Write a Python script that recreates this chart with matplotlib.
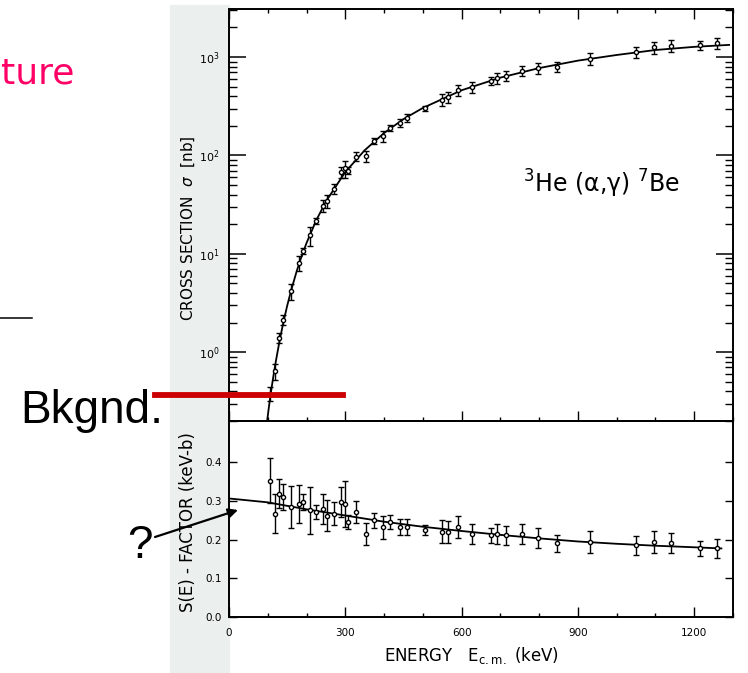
import matplotlib
matplotlib.use('Agg')
import matplotlib.pyplot as plt
import numpy as np
from matplotlib.ticker import (MultipleLocator, LogLocator, NullFormatter,
                               FormatStrFormatter, FixedLocator)
from matplotlib.patches import Rectangle
from matplotlib.lines import Line2D

# data points: energy (keV), S-factor (keV-b) and its error
energy = [105, 118, 130, 140, 160, 180, 190, 208, 225, 242, 252, 270, 290, 298, 308,
          328, 353, 375, 398, 415, 440, 460, 505, 550, 565, 590, 628, 675, 690, 715,
          755, 798, 845, 930, 1050, 1095, 1140, 1215, 1260]
s_factor = [0.352, 0.267, 0.318, 0.309, 0.284, 0.292, 0.297, 0.275, 0.271, 0.279, 0.262,
            0.267, 0.297, 0.292, 0.245, 0.271, 0.215, 0.250, 0.232, 0.245, 0.232, 0.232,
            0.224, 0.220, 0.220, 0.232, 0.215, 0.211, 0.215, 0.211, 0.214, 0.203, 0.190,
            0.194, 0.185, 0.194, 0.190, 0.177, 0.177]
s_err = [0.058, 0.051, 0.037, 0.034, 0.053, 0.050, 0.021, 0.060, 0.019, 0.039, 0.040,
         0.030, 0.039, 0.059, 0.019, 0.028, 0.028, 0.019, 0.030, 0.019, 0.021, 0.021,
         0.013, 0.030, 0.028, 0.028, 0.026, 0.019, 0.026, 0.024, 0.026, 0.026, 0.021,
         0.028, 0.024, 0.028, 0.026, 0.019, 0.024]
# cross section (nb) at the same energies, upper panel
sigma = [0.38, 0.64, 1.40, 2.13, 4.20, 8.05, 10.7, 15.4, 21.7, 30.7, 34.2, 46.1, 67.8,
         73.9, 70.1, 97.2, 99.3, 141, 158, 190, 213, 243, 302, 370, 395, 462, 495, 570,
         609, 644, 728, 770, 801, 967, 1121, 1252, 1301, 1324, 1388]

# fitted curves
curve_e = [98, 102, 105, 110, 115, 120, 130, 140, 150, 160, 175, 185, 200, 225, 250,
           300, 350, 400, 450, 500, 600, 700, 800, 900, 1000, 1100, 1200, 1290]
curve_sigma = [0.195, 0.26, 0.319, 0.438, 0.588, 0.775, 1.278, 1.994, 2.958, 4.21, 6.75,
               8.89, 12.9, 21.9, 34.1, 67.9, 113, 169, 234, 304, 460, 618, 773, 920,
               1050, 1180, 1270, 1330]
s_curve_e = [0, 50, 100, 150, 200, 300, 400, 500, 600, 700, 800, 900, 1000, 1100, 1200, 1270]
s_curve = [0.306, 0.301, 0.296, 0.287, 0.278, 0.262, 0.246, 0.233, 0.222, 0.212, 0.203,
           0.195, 0.189, 0.184, 0.180, 0.177]
s_ticks = [0.0, 0.1, 0.2, 0.3, 0.4]

W, H = 748, 673
fig = plt.figure(figsize=(W / 100, H / 100), dpi=100)


def fx(px):
    return px / W


def fy(py):
    return 1 - py / H


# grey margin of the scanned page (behind everything)
fig.patches.append(Rectangle((fx(170), 0), fx(229) - fx(170), fy(5), transform=fig.transFigure,
                             color='#ebf0ef', zorder=-10))

ax1 = fig.add_axes([fx(229), fy(421), fx(733) - fx(229), fy(9) - fy(421)])
ax2 = fig.add_axes([fx(229), fy(617), fx(733) - fx(229), fy(421) - fy(617)])

for ax in (ax1, ax2):
    ax.set_xlim(0, 1300)
    ax.patch.set_alpha(0)
    for sp in ax.spines.values():
        sp.set_linewidth(1.4)
    ax.xaxis.set_major_locator(MultipleLocator(300))
    ax.xaxis.set_minor_locator(MultipleLocator(100))

# upper panel: cross section
sig = np.array(sigma)
rel = np.array(s_err) / np.array(s_factor)
ax1.set_yscale('log')
ax1.set_ylim(0.2, 3080)
ax1.plot(curve_e, curve_sigma, color='black', lw=1.3)
ax1.errorbar(energy, sig, yerr=sig * rel, fmt='o', ms=3, mfc='white', mec='black',
             color='black', ecolor='black', elinewidth=1.0, capsize=2, capthick=1.0)
ax1.yaxis.set_major_locator(LogLocator(base=10, numticks=10))
ax1.yaxis.set_minor_locator(LogLocator(base=10, subs=np.arange(2, 10), numticks=20))
ax1.yaxis.set_minor_formatter(NullFormatter())
ax1.tick_params(axis='y', which='major', direction='in', length=12, width=1.1,
                left=True, right=True, labelsize=8, pad=7)
ax1.tick_params(axis='y', which='minor', direction='in', length=5.5, width=1.0,
                left=True, right=True)
ax1.tick_params(axis='x', which='major', direction='in', length=7, width=1.0,
                top=True, bottom=True, labelbottom=False)
ax1.tick_params(axis='x', which='minor', direction='in', length=3, width=1.0,
                top=True, bottom=True)

# lower panel: S-factor
ax2.set_ylim(0, 0.506)
ax2.plot(s_curve_e, s_curve, color='black', lw=1.3)
ax2.errorbar(energy, s_factor, yerr=s_err, fmt='o', ms=3, mfc='white', mec='black',
             color='black', ecolor='black', elinewidth=1.0, capsize=2, capthick=1.0)
ax2.yaxis.set_major_locator(FixedLocator(s_ticks))
ax2.yaxis.set_major_formatter(FormatStrFormatter('%.1f'))
ax2.tick_params(axis='y', direction='in', length=6, width=1.0, left=True, right=True,
                labelsize=7.5, pad=5)
ax2.tick_params(axis='x', which='major', direction='in', length=7, width=1.0,
                top=False, bottom=True, labelsize=7.5, pad=8)
ax2.tick_params(axis='x', which='minor', direction='in', length=3, width=1.0,
                top=False, bottom=True)

# axis titles
fig.text(fx(188), fy(228), r'CROSS SECTION  $\sigma$  [nb]', rotation=90,
         ha='center', va='center', fontsize=11)
fig.text(fx(188), fy(522), 'S(E) - FACTOR (keV-b)', rotation=90,
         ha='center', va='center', fontsize=12)
fig.text(fx(471), fy(656), r'ENERGY   E$_{\mathrm{c.m.}}$ (keV)', ha='center',
         va='center', fontsize=12)
fig.text(fx(680), fy(193), '$^{3}$He (α,γ) $^{7}$Be', ha='right',
         va='baseline', fontsize=17)

# slide annotations
fig.text(fx(1), fy(83), 'ture', color='#ff0066', fontsize=26, ha='left', va='baseline')
fig.add_artist(Line2D([fx(0), fx(32)], [fy(318), fy(318)], color='black', lw=1.1))
fig.add_artist(Line2D([fx(155), fx(343)], [fy(395), fy(395)], color='#cc0000', lw=4.2))
fig.text(fx(163), fy(423), 'Bkgnd.', family='Liberation Sans', fontsize=33,
         ha='right', va='baseline')
fig.text(fx(140), fy(558), '?', family='Liberation Sans', fontsize=33,
         ha='center', va='baseline')
fig.add_artist(plt.Annotation('', xy=(fx(238), fy(510)), xytext=(fx(155), fy(537)),
                              xycoords='figure fraction', textcoords='figure fraction',
                              arrowprops=dict(arrowstyle='-|>', color='black', lw=1.6,
                                              mutation_scale=14, shrinkA=0, shrinkB=0)))

fig.savefig('out.png', dpi=100)
